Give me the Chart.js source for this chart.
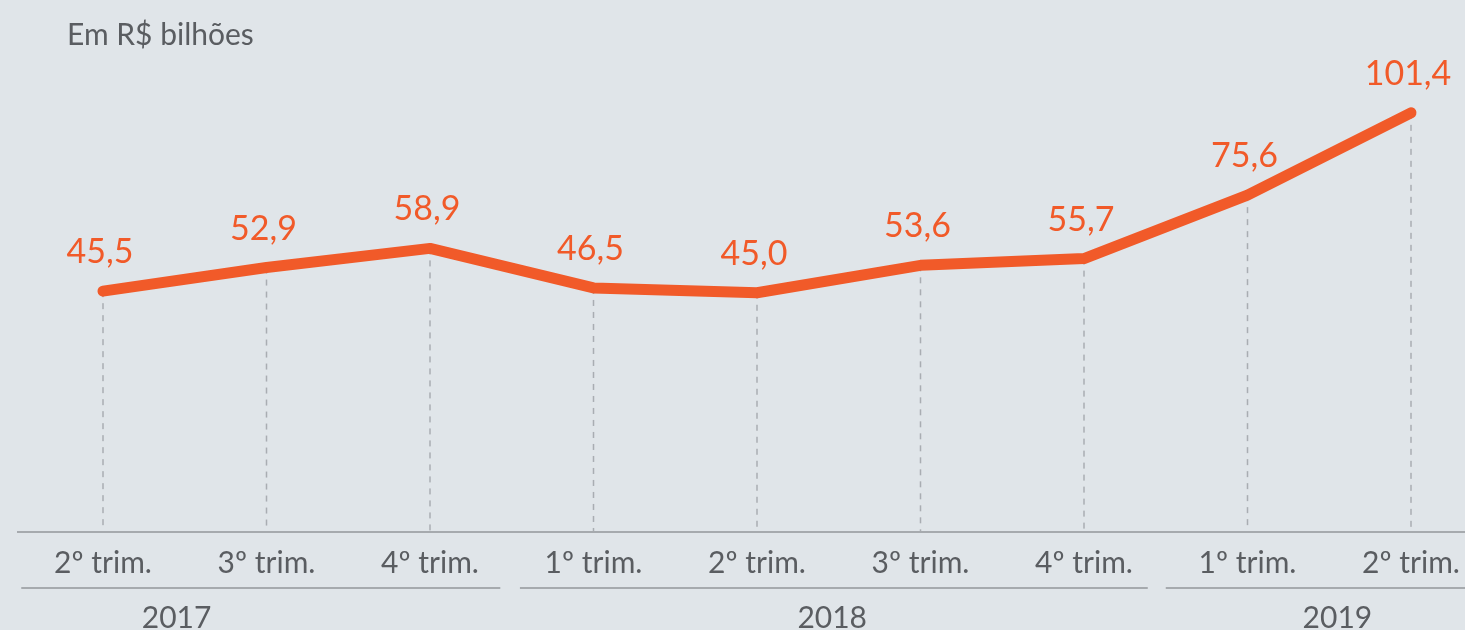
<!DOCTYPE html>
<html>
<head>
<meta charset="utf-8">
<script src="https://cdn.jsdelivr.net/npm/chart.js@4"></script>
<style>
  html, body { margin: 0; padding: 0; background: #e0e5e9; }
  #wrap { width: 1465px; height: 630px; position: relative; }
</style>
</head>
<body>
<div id="wrap"><canvas id="chart" width="1465" height="630"></canvas></div>
<script>
// data
const quarters = ['2º trim.', '3º trim.', '4º trim.', '1º trim.', '2º trim.', '3º trim.', '4º trim.', '1º trim.', '2º trim.'];
const values = [45.5, 52.9, 58.9, 46.5, 45.0, 53.6, 55.7, 75.6, 101.4];
const years = ['2017', '2018', '2019'];
// group spans in category index units: [start, end, label position]
const yearSpans = [[-0.5, 2.43, 0.45], [2.55, 6.39, 4.46], [6.5, 8.6, 7.55]];

const FONT = 'Lato, "Open Sans", sans-serif';
const ORANGE = '#f15a29';
const GREY_TEXT = '#5a5d61';

const fmt = v => v.toFixed(1).replace('.', ',');

// draws dashed drop lines, axis line, labels and year groups
const decor = {
  id: 'decor',
  beforeDatasetsDraw(chart) {
    const { ctx, chartArea } = chart;
    const meta = chart.getDatasetMeta(0);
    ctx.save();
    ctx.strokeStyle = '#a9adb2';
    ctx.lineWidth = 1.5;
    ctx.setLineDash([6, 6]);
    meta.data.forEach(pt => {
      ctx.beginPath();
      ctx.moveTo(pt.x, pt.y);
      ctx.lineTo(pt.x, chartArea.bottom);
      ctx.stroke();
    });
    ctx.restore();
  },
  afterDatasetsDraw(chart) {
    const { ctx, chartArea, scales } = chart;
    const x = scales.x;
    const meta = chart.getDatasetMeta(0);
    ctx.save();

    // axis line
    ctx.strokeStyle = '#a6aaae';
    ctx.lineWidth = 2;
    ctx.beginPath();
    ctx.moveTo(17, chartArea.bottom);
    ctx.lineTo(chart.width, chartArea.bottom);
    ctx.stroke();

    // value labels
    ctx.fillStyle = ORANGE;
    ctx.font = '34px ' + FONT;
    ctx.textAlign = 'center';
    ctx.textBaseline = 'middle';
    meta.data.forEach((pt, i) => {
      ctx.fillText(fmt(values[i]), pt.x - 3, pt.y - 39);
    });

    // quarter labels
    ctx.fillStyle = GREY_TEXT;
    ctx.font = '30px ' + FONT;
    quarters.forEach((q, i) => {
      ctx.fillText(q, x.getPixelForValue(i), chartArea.bottom + 31);
    });

    // year group lines + labels
    ctx.strokeStyle = '#a6aaae';
    ctx.lineWidth = 2;
    yearSpans.forEach((s, i) => {
      const x0 = x.getPixelForValue(s[0]);
      const x1 = Math.min(x.getPixelForValue(s[1]), chart.width);
      ctx.beginPath();
      ctx.moveTo(x0, chartArea.bottom + 56);
      ctx.lineTo(x1, chartArea.bottom + 56);
      ctx.stroke();
      ctx.fillText(years[i], x.getPixelForValue(s[2]), chartArea.bottom + 86);
    });

    // unit title
    ctx.textAlign = 'left';
    ctx.font = '30px ' + FONT;
    ctx.fillText('Em R$ bilhões', 67, 35);
    ctx.restore();
  }
};

new Chart(document.getElementById('chart'), {
  type: 'line',
  data: {
    labels: quarters,
    datasets: [{
      data: values,
      borderColor: ORANGE,
      borderWidth: 11,
      borderCapStyle: 'round',
      borderJoinStyle: 'round',
      pointRadius: 0,
      tension: 0,
      clip: false
    }]
  },
  options: {
    responsive: false,
    animation: false,
    layout: { padding: { left: 103, right: 54, top: 53.5, bottom: 98 } },
    plugins: { legend: { display: false }, tooltip: { enabled: false } },
    scales: {
      x: { type: 'category', display: false, offset: false },
      y: { display: false, min: -30, max: 120 }
    }
  },
  plugins: [decor]
});
</script>
</body>
</html>
